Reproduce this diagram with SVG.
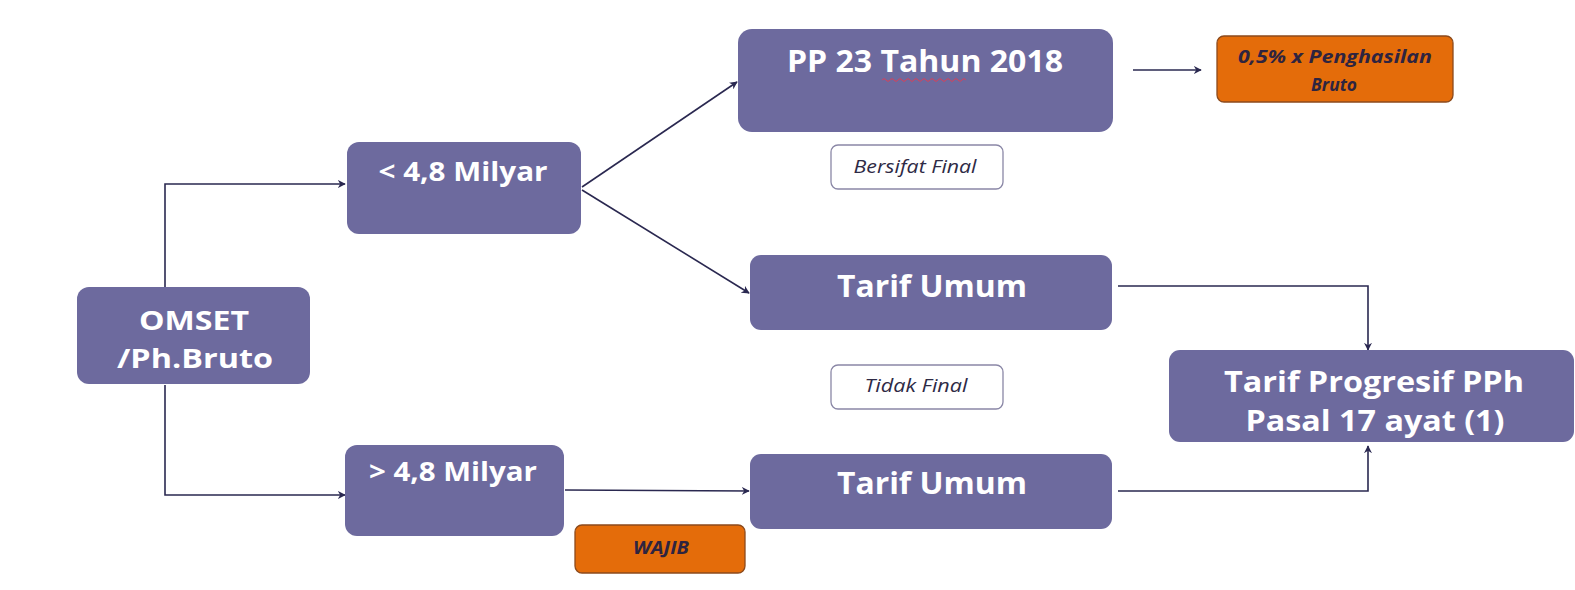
<svg xmlns="http://www.w3.org/2000/svg" width="1575" height="590" viewBox="0 0 1575 590">
<style>
.box{fill:#6d6a9e;}
.lbl{font-family:"Open Sans","Liberation Sans",sans-serif;font-weight:700;fill:#ffffff;text-anchor:middle;}
.note{fill:#ffffff;stroke:#8a87a6;stroke-width:1.3;}
.ntxt{font-family:"Open Sans","Liberation Sans",sans-serif;font-style:italic;fill:#2e2a45;text-anchor:middle;font-size:19px;}
.org{fill:#e46c0a;stroke:#8c4a1c;stroke-width:1.3;}
.otxt{font-family:"Open Sans","Liberation Sans",sans-serif;font-style:italic;font-weight:700;fill:#2e2440;text-anchor:middle;font-size:18px;}
.con{fill:none;stroke:#2a2850;stroke-width:1.6;}
</style>
<defs>
<marker id="arr" viewBox="0 0 10 10" refX="9" refY="5" markerWidth="8" markerHeight="8" markerUnits="userSpaceOnUse" orient="auto">
<path d="M0,0 L10,5 L0,10 L3,5 Z" fill="#2a2850"/>
</marker>
</defs>
<rect width="1575" height="590" fill="#ffffff"/>
<g id="connectors">
<path class="con" d="M165,287 V184 H345" marker-end="url(#arr)"/>
<path class="con" d="M165,385 V495 H345" marker-end="url(#arr)"/>
<path class="con" d="M582,187 L737,82" marker-end="url(#arr)"/>
<path class="con" d="M582,190 L749,293" marker-end="url(#arr)"/>
<path class="con" d="M1133,70 H1201" marker-end="url(#arr)"/>
<path class="con" d="M1118,286 H1368 V350" marker-end="url(#arr)"/>
<path class="con" d="M565,490 L749,491" marker-end="url(#arr)"/>
<path class="con" d="M1118,491 H1368 V446" marker-end="url(#arr)"/>
</g>
<g id="omset">
<rect class="box" x="77" y="287" width="233" height="97" rx="12"/>
<text class="lbl" x="194" y="330" font-size="27" textLength="110" lengthAdjust="spacingAndGlyphs">OMSET</text>
<text class="lbl" x="195" y="368" font-size="27" textLength="156" lengthAdjust="spacingAndGlyphs">/Ph.Bruto</text>
</g>
<g id="lt48">
<rect class="box" x="347" y="142" width="234" height="92" rx="12"/>
<text class="lbl" x="463" y="181" font-size="27" textLength="169" lengthAdjust="spacingAndGlyphs">&lt; 4,8 Milyar</text>
</g>
<g id="gt48">
<rect class="box" x="345" y="445" width="219" height="91" rx="12"/>
<text class="lbl" x="453" y="481" font-size="27" textLength="168" lengthAdjust="spacingAndGlyphs">&gt; 4,8 Milyar</text>
</g>
<g id="pp23">
<rect class="box" x="738" y="29" width="375" height="103" rx="14"/>
<text class="lbl" x="925" y="72" font-size="31" textLength="276" lengthAdjust="spacingAndGlyphs">PP 23 Tahun 2018</text>
<path d="M882,80 q2,-3 4,0 t4,0 t4,0 t4,0 t4,0 t4,0 t4,0 t4,0 t4,0 t4,0 t4,0 t4,0 t4,0 t4,0 t4,0 t4,0 t4,0 t4,0 t4,0 t4,0 t4,0" fill="none" stroke="#d8405a" stroke-width="1"/>
</g>
<g id="bruto">
<rect class="org" x="1217" y="36" width="236" height="66" rx="7"/>
<text class="otxt" x="1335" y="63" textLength="194" lengthAdjust="spacingAndGlyphs">0,5% x Penghasilan</text>
<text class="otxt" x="1334" y="91" textLength="46" lengthAdjust="spacingAndGlyphs">Bruto</text>
</g>
<g id="bersifat">
<rect class="note" x="831" y="145" width="172" height="44" rx="7"/>
<text class="ntxt" x="915" y="173" textLength="123" lengthAdjust="spacingAndGlyphs">Bersifat Final</text>
</g>
<g id="tarif1">
<rect class="box" x="750" y="255" width="362" height="75" rx="11"/>
<text class="lbl" x="932" y="297" font-size="31" textLength="190" lengthAdjust="spacingAndGlyphs">Tarif Umum</text>
</g>
<g id="tidak">
<rect class="note" x="831" y="365" width="172" height="44" rx="7"/>
<text class="ntxt" x="916" y="392" textLength="103" lengthAdjust="spacingAndGlyphs">Tidak Final</text>
</g>
<g id="progresif">
<rect class="box" x="1169" y="350" width="405" height="92" rx="11"/>
<text class="lbl" x="1374" y="392" font-size="29" textLength="300" lengthAdjust="spacingAndGlyphs">Tarif Progresif PPh</text>
<text class="lbl" x="1375" y="431" font-size="29" textLength="259" lengthAdjust="spacingAndGlyphs">Pasal 17 ayat (1)</text>
</g>
<g id="tarif2">
<rect class="box" x="750" y="454" width="362" height="75" rx="11"/>
<text class="lbl" x="932" y="494" font-size="31" textLength="190" lengthAdjust="spacingAndGlyphs">Tarif Umum</text>
</g>
<g id="wajib">
<rect class="org" x="575" y="525" width="170" height="48" rx="7"/>
<text class="otxt" x="661" y="554" textLength="56" lengthAdjust="spacingAndGlyphs">WAJIB</text>
</g>
</svg>
